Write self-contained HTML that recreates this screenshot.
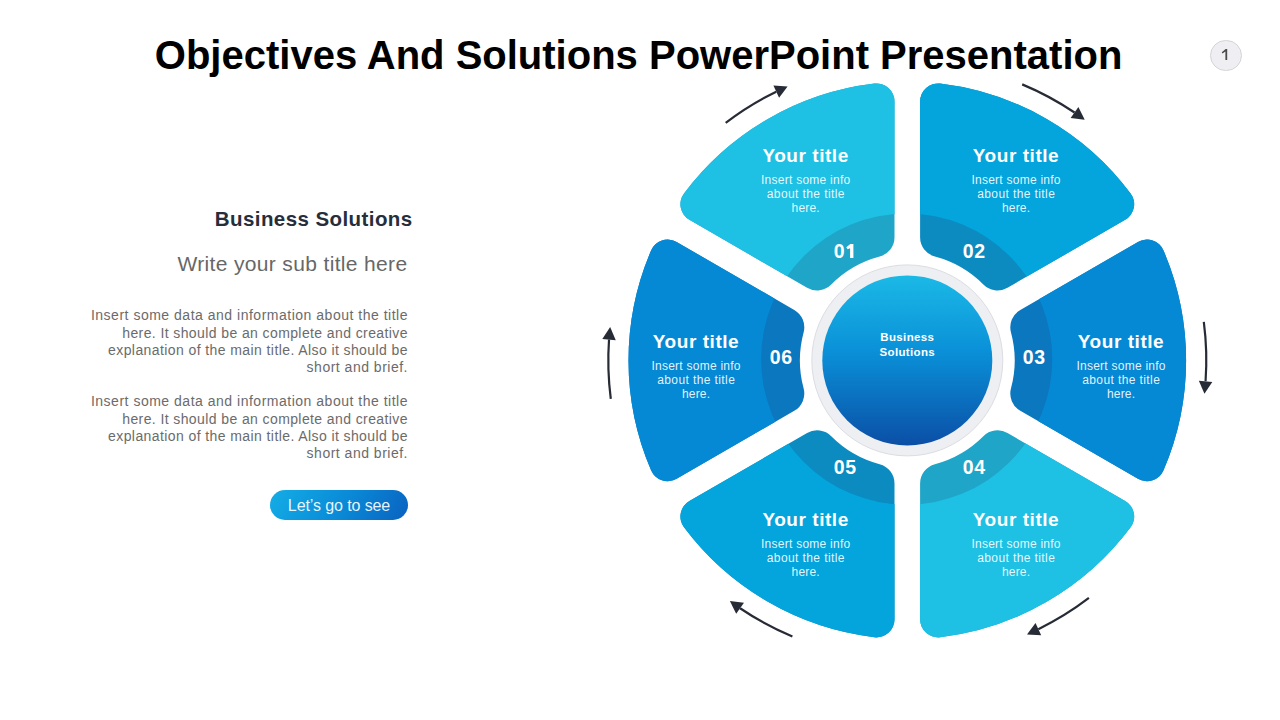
<!DOCTYPE html>
<html><head><meta charset="utf-8">
<style>
html,body{margin:0;padding:0;background:#fff;}
body{width:1280px;height:720px;position:relative;overflow:hidden;font-family:"Liberation Sans", sans-serif;}
</style></head><body>
<svg width="1280" height="720" viewBox="0 0 1280 720" style="position:absolute;left:0;top:0">
<defs>
<clipPath id="outside"><path clip-rule="evenodd" d="M0,0 H1280 V720 H0 Z M761.1,359.1 a145.6,145.6 0 1 0 291.2,0 a145.6,145.6 0 1 0 -291.2,0 Z"/></clipPath>
<linearGradient id="cg" x1="0" y1="0" x2="0" y2="1"><stop offset="0" stop-color="#1bb9e6"/><stop offset="0.45" stop-color="#0a90d8"/><stop offset="1" stop-color="#0b4fa6"/></linearGradient>
</defs>
<path d="M689.42,219.83 A18.0,18.0 0 0 1 684.00,193.46 A278.8,278.8 0 0 1 874.37,83.55 A18.0,18.0 0 0 1 894.50,101.43 L894.50,237.29 A20.0,20.0 0 0 1 879.65,256.62 A107.4,107.4 0 0 0 831.25,284.56 A20.0,20.0 0 0 1 807.09,287.76 Z" fill="#1fa5c8"/>
<path d="M689.42,219.83 A18.0,18.0 0 0 1 684.00,193.46 A278.8,278.8 0 0 1 874.37,83.55 A18.0,18.0 0 0 1 894.50,101.43 L894.50,237.29 A20.0,20.0 0 0 1 879.65,256.62 A107.4,107.4 0 0 0 831.25,284.56 A20.0,20.0 0 0 1 807.09,287.76 Z" fill="#1ec0e4" clip-path="url(#outside)"/>
<path d="M920.10,101.43 A18.0,18.0 0 0 1 940.23,83.55 A278.8,278.8 0 0 1 1130.60,193.46 A18.0,18.0 0 0 1 1125.18,219.83 L1007.51,287.76 A20.0,20.0 0 0 1 983.35,284.56 A107.4,107.4 0 0 0 934.95,256.62 A20.0,20.0 0 0 1 920.10,237.29 Z" fill="#0b8bbf"/>
<path d="M920.10,101.43 A18.0,18.0 0 0 1 940.23,83.55 A278.8,278.8 0 0 1 1130.60,193.46 A18.0,18.0 0 0 1 1125.18,219.83 L1007.51,287.76 A20.0,20.0 0 0 1 983.35,284.56 A107.4,107.4 0 0 0 934.95,256.62 A20.0,20.0 0 0 1 920.10,237.29 Z" fill="#04a4dc" clip-path="url(#outside)"/>
<path d="M1137.98,242.00 A18.0,18.0 0 0 1 1163.52,250.49 A278.8,278.8 0 0 1 1163.52,470.31 A18.0,18.0 0 0 1 1137.98,478.80 L1020.31,410.87 A20.0,20.0 0 0 1 1011.00,388.34 A107.4,107.4 0 0 0 1011.00,332.46 A20.0,20.0 0 0 1 1020.31,309.93 Z" fill="#0b77bf"/>
<path d="M1137.98,242.00 A18.0,18.0 0 0 1 1163.52,250.49 A278.8,278.8 0 0 1 1163.52,470.31 A18.0,18.0 0 0 1 1137.98,478.80 L1020.31,410.87 A20.0,20.0 0 0 1 1011.00,388.34 A107.4,107.4 0 0 0 1011.00,332.46 A20.0,20.0 0 0 1 1020.31,309.93 Z" fill="#0589d5" clip-path="url(#outside)"/>
<path d="M1125.18,500.97 A18.0,18.0 0 0 1 1130.60,527.34 A278.8,278.8 0 0 1 940.23,637.25 A18.0,18.0 0 0 1 920.10,619.37 L920.10,483.51 A20.0,20.0 0 0 1 934.95,464.18 A107.4,107.4 0 0 0 983.35,436.24 A20.0,20.0 0 0 1 1007.51,433.04 Z" fill="#1fa5c8"/>
<path d="M1125.18,500.97 A18.0,18.0 0 0 1 1130.60,527.34 A278.8,278.8 0 0 1 940.23,637.25 A18.0,18.0 0 0 1 920.10,619.37 L920.10,483.51 A20.0,20.0 0 0 1 934.95,464.18 A107.4,107.4 0 0 0 983.35,436.24 A20.0,20.0 0 0 1 1007.51,433.04 Z" fill="#1ec0e4" clip-path="url(#outside)"/>
<path d="M894.50,619.37 A18.0,18.0 0 0 1 874.37,637.25 A278.8,278.8 0 0 1 684.00,527.34 A18.0,18.0 0 0 1 689.42,500.97 L807.09,433.04 A20.0,20.0 0 0 1 831.25,436.24 A107.4,107.4 0 0 0 879.65,464.18 A20.0,20.0 0 0 1 894.50,483.51 Z" fill="#0b8bbf"/>
<path d="M894.50,619.37 A18.0,18.0 0 0 1 874.37,637.25 A278.8,278.8 0 0 1 684.00,527.34 A18.0,18.0 0 0 1 689.42,500.97 L807.09,433.04 A20.0,20.0 0 0 1 831.25,436.24 A107.4,107.4 0 0 0 879.65,464.18 A20.0,20.0 0 0 1 894.50,483.51 Z" fill="#04a4dc" clip-path="url(#outside)"/>
<path d="M676.62,478.80 A18.0,18.0 0 0 1 651.08,470.31 A278.8,278.8 0 0 1 651.08,250.49 A18.0,18.0 0 0 1 676.62,242.00 L794.29,309.93 A20.0,20.0 0 0 1 803.60,332.46 A107.4,107.4 0 0 0 803.60,388.34 A20.0,20.0 0 0 1 794.29,410.87 Z" fill="#0b77bf"/>
<path d="M676.62,478.80 A18.0,18.0 0 0 1 651.08,470.31 A278.8,278.8 0 0 1 651.08,250.49 A18.0,18.0 0 0 1 676.62,242.00 L794.29,309.93 A20.0,20.0 0 0 1 803.60,332.46 A107.4,107.4 0 0 0 803.60,388.34 A20.0,20.0 0 0 1 794.29,410.87 Z" fill="#0589d5" clip-path="url(#outside)"/>
<path d="M725.69,122.87 A299.0,299.0 0 0 1 776.25,91.65" fill="none" stroke="#262b36" stroke-width="2.2"/><path d="M787.60,86.41 L779.08,97.78 L773.42,85.52 Z" fill="#262b36"/>
<path d="M1022.20,84.36 A299.0,299.0 0 0 1 1074.52,112.53" fill="none" stroke="#262b36" stroke-width="2.2"/><path d="M1084.73,119.74 L1070.63,118.05 L1078.41,107.02 Z" fill="#262b36"/>
<path d="M1203.81,321.89 A299.0,299.0 0 0 1 1205.57,381.28" fill="none" stroke="#262b36" stroke-width="2.2"/><path d="M1204.44,393.73 L1198.85,380.67 L1212.29,381.89 Z" fill="#262b36"/>
<path d="M1088.91,597.93 A299.0,299.0 0 0 1 1038.35,629.15" fill="none" stroke="#262b36" stroke-width="2.2"/><path d="M1027.00,634.39 L1035.52,623.02 L1041.18,635.28 Z" fill="#262b36"/>
<path d="M792.40,636.44 A299.0,299.0 0 0 1 740.08,608.27" fill="none" stroke="#262b36" stroke-width="2.2"/><path d="M729.87,601.06 L743.97,602.75 L736.19,613.78 Z" fill="#262b36"/>
<path d="M610.79,398.91 A299.0,299.0 0 0 1 609.03,339.52" fill="none" stroke="#262b36" stroke-width="2.2"/><path d="M610.16,327.07 L615.75,340.13 L602.31,338.91 Z" fill="#262b36"/>
<circle cx="907.3" cy="360.4" r="95.5" fill="#eeeff2" stroke="#dcdde3" stroke-width="1"/>
<circle cx="907.3" cy="360.4" r="85" fill="url(#cg)"/>
</svg>
<div style="position:absolute;left:38.60px;top:30.84px;width:1200px;text-align:center;font-size:40px;line-height:48.0px;font-weight:bold;color:#000;letter-spacing:0px;white-space:nowrap;">Objectives And Solutions PowerPoint Presentation</div>
<div style="position:absolute;left:-187.40px;top:207.40px;width:600px;text-align:right;font-size:20.5px;line-height:24.6px;font-weight:bold;color:#262e3c;letter-spacing:0.42px;white-space:nowrap;">Business Solutions</div>
<div style="position:absolute;left:-192.50px;top:250.92px;width:600px;text-align:right;font-size:21px;line-height:25.2px;font-weight:normal;color:#676767;letter-spacing:0.35px;white-space:nowrap;">Write your sub title here</div>
<div style="position:absolute;left:-191.99px;top:307.25px;width:600px;text-align:right;font-size:14px;line-height:17px;font-weight:normal;color:#6b6b6b;letter-spacing:0.51px;white-space:nowrap;">Insert some data and information about the title</div>
<div style="position:absolute;left:-192.10px;top:324.60px;width:600px;text-align:right;font-size:14px;line-height:17px;font-weight:normal;color:#6b6b6b;letter-spacing:0.4px;white-space:nowrap;">here. It should be an complete and creative</div>
<div style="position:absolute;left:-192.09px;top:341.95px;width:600px;text-align:right;font-size:14px;line-height:17px;font-weight:normal;color:#6b6b6b;letter-spacing:0.41px;white-space:nowrap;">explanation of the main title. Also it should be</div>
<div style="position:absolute;left:-192.00px;top:359.30px;width:600px;text-align:right;font-size:14px;line-height:17px;font-weight:normal;color:#6b6b6b;letter-spacing:0.5px;white-space:nowrap;">short and brief.</div>
<div style="position:absolute;left:-191.99px;top:393.25px;width:600px;text-align:right;font-size:14px;line-height:17px;font-weight:normal;color:#6b6b6b;letter-spacing:0.51px;white-space:nowrap;">Insert some data and information about the title</div>
<div style="position:absolute;left:-192.10px;top:410.60px;width:600px;text-align:right;font-size:14px;line-height:17px;font-weight:normal;color:#6b6b6b;letter-spacing:0.4px;white-space:nowrap;">here. It should be an complete and creative</div>
<div style="position:absolute;left:-192.09px;top:427.95px;width:600px;text-align:right;font-size:14px;line-height:17px;font-weight:normal;color:#6b6b6b;letter-spacing:0.41px;white-space:nowrap;">explanation of the main title. Also it should be</div>
<div style="position:absolute;left:-192.00px;top:445.30px;width:600px;text-align:right;font-size:14px;line-height:17px;font-weight:normal;color:#6b6b6b;letter-spacing:0.5px;white-space:nowrap;">short and brief.</div>
<div style="position:absolute;left:270px;top:490px;width:138px;height:30px;border-radius:15px;background:linear-gradient(120deg,#14ade6 0%,#0a8cd8 50%,#0962c0 100%);"></div>
<div style="position:absolute;left:39.00px;top:495.86px;width:600px;text-align:center;font-size:16px;line-height:19.2px;font-weight:normal;color:rgba(255,255,255,0.92);letter-spacing:-0.1px;white-space:nowrap;">Let’s go to see</div>
<div style="position:absolute;left:1210.3px;top:39.5px;width:31.6px;height:31.6px;border-radius:50%;background:#efeff3;border:1px solid #d4d4d8;box-sizing:border-box;"></div>
<svg style="position:absolute;left:0;top:0" width="1280" height="720"><path fill="#4a4a4a" d="M1227.2,49.1 L1227.2,60 L1225.4,60 L1225.4,51.6 L1222.4,53.5 L1221.8,52.3 L1225.7,49.1 Z"/></svg>
<div style="position:absolute;left:505.60px;top:144.72px;width:600px;text-align:center;font-size:19px;line-height:22.8px;font-weight:bold;color:#fff;letter-spacing:0.55px;white-space:nowrap;">Your title</div>
<div style="position:absolute;left:505.73px;top:172.94px;width:600px;text-align:center;font-size:12px;line-height:14px;font-weight:normal;color:rgba(255,255,255,0.9);letter-spacing:0.25px;white-space:nowrap;">Insert some info</div>
<div style="position:absolute;left:505.80px;top:187.14px;width:600px;text-align:center;font-size:12px;line-height:14px;font-weight:normal;color:rgba(255,255,255,0.9);letter-spacing:0.4px;white-space:nowrap;">about the title</div>
<div style="position:absolute;left:505.68px;top:201.34px;width:600px;text-align:center;font-size:12px;line-height:14px;font-weight:normal;color:rgba(255,255,255,0.9);letter-spacing:0.15px;white-space:nowrap;">here.</div>
<div style="position:absolute;left:716.00px;top:144.72px;width:600px;text-align:center;font-size:19px;line-height:22.8px;font-weight:bold;color:#fff;letter-spacing:0.55px;white-space:nowrap;">Your title</div>
<div style="position:absolute;left:716.12px;top:172.94px;width:600px;text-align:center;font-size:12px;line-height:14px;font-weight:normal;color:rgba(255,255,255,0.9);letter-spacing:0.25px;white-space:nowrap;">Insert some info</div>
<div style="position:absolute;left:716.20px;top:187.14px;width:600px;text-align:center;font-size:12px;line-height:14px;font-weight:normal;color:rgba(255,255,255,0.9);letter-spacing:0.4px;white-space:nowrap;">about the title</div>
<div style="position:absolute;left:716.08px;top:201.34px;width:600px;text-align:center;font-size:12px;line-height:14px;font-weight:normal;color:rgba(255,255,255,0.9);letter-spacing:0.15px;white-space:nowrap;">here.</div>
<div style="position:absolute;left:821.00px;top:330.72px;width:600px;text-align:center;font-size:19px;line-height:22.8px;font-weight:bold;color:#fff;letter-spacing:0.55px;white-space:nowrap;">Your title</div>
<div style="position:absolute;left:821.12px;top:358.94px;width:600px;text-align:center;font-size:12px;line-height:14px;font-weight:normal;color:rgba(255,255,255,0.9);letter-spacing:0.25px;white-space:nowrap;">Insert some info</div>
<div style="position:absolute;left:821.20px;top:373.14px;width:600px;text-align:center;font-size:12px;line-height:14px;font-weight:normal;color:rgba(255,255,255,0.9);letter-spacing:0.4px;white-space:nowrap;">about the title</div>
<div style="position:absolute;left:821.08px;top:387.34px;width:600px;text-align:center;font-size:12px;line-height:14px;font-weight:normal;color:rgba(255,255,255,0.9);letter-spacing:0.15px;white-space:nowrap;">here.</div>
<div style="position:absolute;left:396.00px;top:330.72px;width:600px;text-align:center;font-size:19px;line-height:22.8px;font-weight:bold;color:#fff;letter-spacing:0.55px;white-space:nowrap;">Your title</div>
<div style="position:absolute;left:396.12px;top:358.94px;width:600px;text-align:center;font-size:12px;line-height:14px;font-weight:normal;color:rgba(255,255,255,0.9);letter-spacing:0.25px;white-space:nowrap;">Insert some info</div>
<div style="position:absolute;left:396.20px;top:373.14px;width:600px;text-align:center;font-size:12px;line-height:14px;font-weight:normal;color:rgba(255,255,255,0.9);letter-spacing:0.4px;white-space:nowrap;">about the title</div>
<div style="position:absolute;left:396.08px;top:387.34px;width:600px;text-align:center;font-size:12px;line-height:14px;font-weight:normal;color:rgba(255,255,255,0.9);letter-spacing:0.15px;white-space:nowrap;">here.</div>
<div style="position:absolute;left:505.60px;top:508.72px;width:600px;text-align:center;font-size:19px;line-height:22.8px;font-weight:bold;color:#fff;letter-spacing:0.55px;white-space:nowrap;">Your title</div>
<div style="position:absolute;left:505.73px;top:536.94px;width:600px;text-align:center;font-size:12px;line-height:14px;font-weight:normal;color:rgba(255,255,255,0.9);letter-spacing:0.25px;white-space:nowrap;">Insert some info</div>
<div style="position:absolute;left:505.80px;top:551.14px;width:600px;text-align:center;font-size:12px;line-height:14px;font-weight:normal;color:rgba(255,255,255,0.9);letter-spacing:0.4px;white-space:nowrap;">about the title</div>
<div style="position:absolute;left:505.68px;top:565.34px;width:600px;text-align:center;font-size:12px;line-height:14px;font-weight:normal;color:rgba(255,255,255,0.9);letter-spacing:0.15px;white-space:nowrap;">here.</div>
<div style="position:absolute;left:716.00px;top:508.72px;width:600px;text-align:center;font-size:19px;line-height:22.8px;font-weight:bold;color:#fff;letter-spacing:0.55px;white-space:nowrap;">Your title</div>
<div style="position:absolute;left:716.12px;top:536.94px;width:600px;text-align:center;font-size:12px;line-height:14px;font-weight:normal;color:rgba(255,255,255,0.9);letter-spacing:0.25px;white-space:nowrap;">Insert some info</div>
<div style="position:absolute;left:716.20px;top:551.14px;width:600px;text-align:center;font-size:12px;line-height:14px;font-weight:normal;color:rgba(255,255,255,0.9);letter-spacing:0.4px;white-space:nowrap;">about the title</div>
<div style="position:absolute;left:716.08px;top:565.34px;width:600px;text-align:center;font-size:12px;line-height:14px;font-weight:normal;color:rgba(255,255,255,0.9);letter-spacing:0.15px;white-space:nowrap;">here.</div>
<div style="position:absolute;left:833.85px;top:240.34px;width:600px;text-align:left;font-size:19.5px;line-height:23.4px;font-weight:bold;color:#fff;letter-spacing:0.6px;white-space:nowrap;">0</div>
<div style="position:absolute;left:962.75px;top:240.34px;width:600px;text-align:left;font-size:19.5px;line-height:23.4px;font-weight:bold;color:#fff;letter-spacing:0.6px;white-space:nowrap;">02</div>
<div style="position:absolute;left:1022.75px;top:346.44px;width:600px;text-align:left;font-size:19.5px;line-height:23.4px;font-weight:bold;color:#fff;letter-spacing:0.6px;white-space:nowrap;">03</div>
<div style="position:absolute;left:962.75px;top:456.44px;width:600px;text-align:left;font-size:19.5px;line-height:23.4px;font-weight:bold;color:#fff;letter-spacing:0.6px;white-space:nowrap;">04</div>
<div style="position:absolute;left:833.85px;top:456.44px;width:600px;text-align:left;font-size:19.5px;line-height:23.4px;font-weight:bold;color:#fff;letter-spacing:0.6px;white-space:nowrap;">05</div>
<div style="position:absolute;left:769.85px;top:346.44px;width:600px;text-align:left;font-size:19.5px;line-height:23.4px;font-weight:bold;color:#fff;letter-spacing:0.6px;white-space:nowrap;">06</div>
<svg style="position:absolute;left:0;top:0" width="1280" height="720"><path fill="#fff" d="M853.40,244.00 L853.40,257.90 L850.10,257.90 L850.10,248.30 L847.50,249.30 L846.30,247.30 L850.30,244.00 Z"/></svg>
<div style="position:absolute;left:607.30px;top:330.02px;width:600px;text-align:center;font-size:11.5px;line-height:15.2px;font-weight:bold;color:#fff;letter-spacing:0.35px;white-space:nowrap;">Business<br>Solutions</div>
</body></html>
